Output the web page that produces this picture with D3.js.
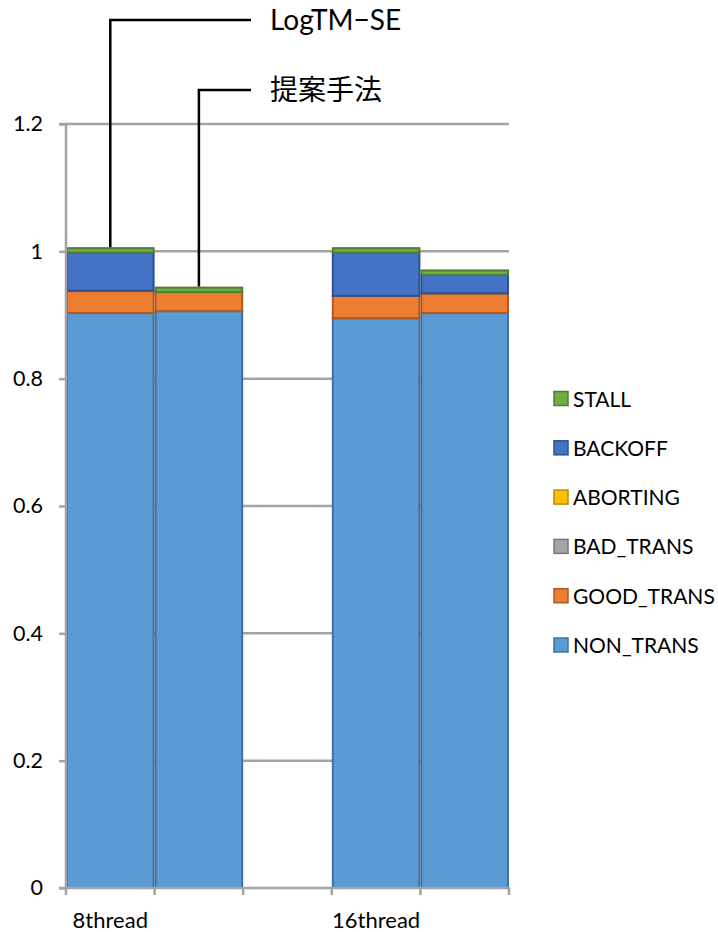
<!DOCTYPE html>
<html>
<head>
<meta charset="utf-8">
<script src="https://cdn.jsdelivr.net/npm/d3@7"></script>
<style>
  html, body { margin: 0; padding: 0; background: #fff; }
  svg { display: block; }
  text { font-family: Lato, "Noto Sans CJK JP", sans-serif; fill: #000; }
</style>
</head>
<body>
<svg id="chart" width="718" height="932"></svg>
<script>
// Bar slots along the x axis (the middle slot is an empty spacer)
const slots = ["8-LogTM-SE", "8-proposed", "spacer", "16-LogTM-SE", "16-proposed"];
const slotLabels = ["8thread", "", "", "16thread", ""];

// Stacked components, bottom to top
const seriesNames = ["NON_TRANS", "GOOD_TRANS", "BAD_TRANS", "ABORTING", "BACKOFF", "STALL"];
const nonTrans  = [0.903, 0.906, 0, 0.895, 0.903];
const goodTrans = [0.035, 0.030, 0, 0.035, 0.031];
const badTrans  = [0.000, 0.000, 0, 0.000, 0.000];
const aborting  = [0.000, 0.000, 0, 0.000, 0.000];
const backoff   = [0.060, 0.000, 0, 0.068, 0.029];
const stall     = [0.007, 0.007, 0, 0.007, 0.007];

const yTicks = [0, 0.2, 0.4, 0.6, 0.8, 1, 1.2];
const yTickLabels = ["0", "0.2", "0.4", "0.6", "0.8", "1", "1.2"];

// Callouts pointing at the 8thread bars
const callouts = [
  { slot: "8-LogTM-SE", text: "LogTM\u2212SE" },
  { slot: "8-proposed", text: "提案手法" }
];

const fills   = ["#5B9BD5", "#ED7D31", "#A5A5A5", "#FFC000", "#4472C4", "#70AD47"];
const strokes = ["#41719C", "#AE5A21", "#787878", "#BC8C00", "#2F528F", "#507E32"];

const valueArrays = [nonTrans, goodTrans, badTrans, aborting, backoff, stall];
const rows = slots.map((s, i) => {
  const r = { slot: s };
  seriesNames.forEach((n, k) => { r[n] = valueArrays[k][i]; });
  return r;
});

const svg = d3.select("#chart");
const plotLeft = 66, plotRight = 509, plotTop = 124, plotBottom = 888;

const x = d3.scaleBand().domain(slots).range([plotLeft, plotRight]).padding(0);
const y = d3.scaleLinear().domain([0, 1.2]).range([plotBottom, plotTop]);

// Horizontal gridlines
svg.append("g").selectAll("line")
  .data(yTicks.filter(t => t > 0))
  .join("line")
  .attr("x1", plotLeft).attr("x2", plotRight)
  .attr("y1", d => y(d)).attr("y2", d => y(d))
  .attr("stroke", "#a3a3a3").attr("stroke-width", 2.5);

// Stacked bars
const stacked = d3.stack().keys(seriesNames)(rows);
const barG = svg.append("g");
stacked.forEach((layer, k) => {
  barG.append("g").selectAll("rect")
    .data(layer.filter(d => d[1] - d[0] > 0))
    .join("rect")
    .attr("x", d => x(d.data.slot) + 1)
    .attr("width", x.bandwidth() - 2)
    .attr("y", d => y(d[1]))
    .attr("height", d => y(d[0]) - y(d[1]))
    .attr("fill", fills[k])
    .attr("stroke", strokes[k])
    .attr("stroke-width", 2);
});

// Y axis
const yAxis = d3.axisLeft(y)
  .tickValues(yTicks)
  .tickFormat((d, i) => yTickLabels[i])
  .tickSize(7)
  .tickPadding(16);
const yg = svg.append("g").attr("transform", `translate(${plotLeft},0)`).call(yAxis);
yg.select(".domain").attr("stroke", "#a3a3a3").attr("stroke-width", 2.5)
  .attr("d", `M-7,${plotTop}H0V${plotBottom}`);
yg.selectAll(".tick line").attr("stroke", "#a3a3a3").attr("stroke-width", 2.5);
yg.selectAll(".tick text")
  .attr("font-family", "Lato, sans-serif").attr("font-size", 21.5).attr("fill", "#000");

// X axis: line, boundary ticks, labels under the category slots
const xg = svg.append("g");
xg.append("line")
  .attr("x1", plotLeft - 7).attr("x2", plotRight + 1)
  .attr("y1", plotBottom).attr("y2", plotBottom)
  .attr("stroke", "#a3a3a3").attr("stroke-width", 2.5);
const bounds = slots.map(s => x(s)).concat([x(slots[slots.length - 1]) + x.bandwidth()]);
xg.selectAll("line.tk").data(bounds).join("line").attr("class", "tk")
  .attr("x1", d => d).attr("x2", d => d)
  .attr("y1", plotBottom).attr("y2", plotBottom + 7)
  .attr("stroke", "#a3a3a3").attr("stroke-width", 2.5);
xg.selectAll("text").data(slots.filter((s, i) => slotLabels[i] !== ""))
  .join("text")
  .attr("x", d => x(d) + x.bandwidth() / 2)
  .attr("y", 928)
  .attr("text-anchor", "middle")
  .attr("font-size", 22)
  .text(d => slotLabels[slots.indexOf(d)]);

// Legend (top to bottom: STALL ... NON_TRANS)
const legendOrder = seriesNames.map((n, k) => k).reverse();
const lg = svg.append("g");
legendOrder.forEach((k, i) => {
  const cy = 399 + i * 49.3;
  lg.append("rect")
    .attr("x", 554).attr("y", cy - 7.5).attr("width", 14).attr("height", 14)
    .attr("fill", fills[k]).attr("stroke", strokes[k]).attr("stroke-width", 1.5);
  lg.append("text")
    .attr("x", 573).attr("y", cy).attr("dy", "0.36em")
    .attr("font-size", 21)
    .text(seriesNames[k]);
});

// Callout leader lines and labels
const totals = rows.map(r => seriesNames.reduce((a, n) => a + r[n], 0));
const calloutY = [20, 90];
callouts.forEach((c, i) => {
  const idx = slots.indexOf(c.slot);
  const cx = x(c.slot) + x.bandwidth() / 2;
  const yEnd = y(totals[idx]) - 1;
  svg.append("path")
    .attr("d", `M${cx},${yEnd}V${calloutY[i]}H251`)
    .attr("fill", "none").attr("stroke", "#000").attr("stroke-width", 2.5);
  svg.append("text")
    .attr("x", 270).attr("y", calloutY[i]).attr("dy", "0.36em")
    .attr("font-size", 28)
    .attr("font-family", i === 0 ? "Lato, sans-serif" : "'Noto Sans CJK JP', sans-serif")
    .text(c.text);
});
</script>
</body>
</html>
